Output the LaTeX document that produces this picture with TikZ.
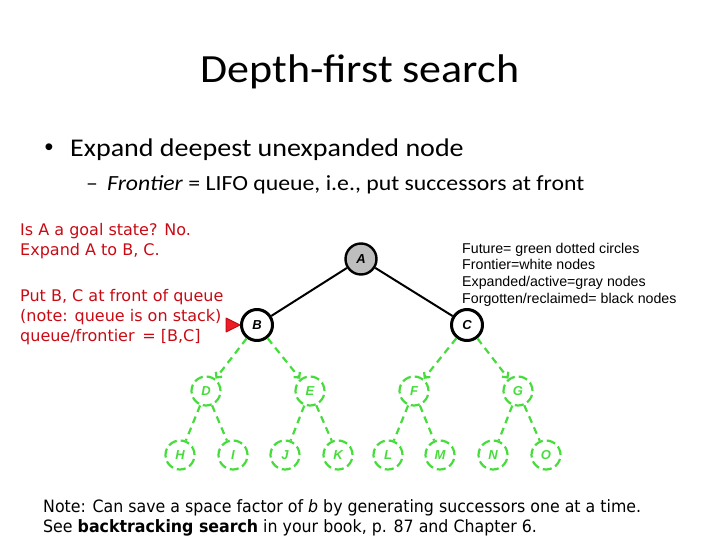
\documentclass[tikz,border=0pt]{standalone}
\usepackage{fontspec}
\setmainfont[FakeStretch=1.1]{Carlito}
\newfontfamily\notefont{DejaVu Sans}
\newfontfamily\bottomfont[FakeStretch=0.93]{DejaVu Sans}
\newfontfamily\legendfont{Liberation Sans}
\usetikzlibrary{arrows.meta}
\definecolor{notered}{RGB}{200,10,20}
\definecolor{pointred}{RGB}{235,30,40}
\definecolor{futuregreen}{RGB}{70,220,60}
\definecolor{expgray}{RGB}{190,190,190}
\begin{document}
\begin{tikzpicture}[x=1pt,y=-1pt,>=latex,line join=bevel,
  treenode/.style={circle,inner sep=0pt,font=\legendfont\bfseries\itshape\fontsize{13}{13}\selectfont},
  expanded/.style={treenode,draw=black,line width=2.4pt,fill=expgray,minimum size=31pt},
  frontier/.style={treenode,draw=black,line width=3pt,fill=white,minimum size=31pt},
  future/.style={treenode,draw=futuregreen,line width=2.2pt,dash pattern=on 9pt off 4pt,minimum size=29pt,text=futuregreen},
  treeedge/.style={black,line width=2pt},
  futureedge/.style={futuregreen,line width=2.2pt,dash pattern=on 7pt off 5pt},
  redtext/.style={anchor=base west,text=notered,font=\notefont\fontsize{16}{20}\selectfont,align=left,inner sep=0pt},
  ]
\useasboundingbox (0,0) rectangle (720,540);
%%
\node (title) at (360,83) [anchor=base,font=\fontsize{40}{40}\selectfont] {Depth-first search};
\node (bullet) at (49,156) [anchor=base,font=\legendfont\fontsize{25}{25}\selectfont] {•};
\node (point_1) at (70,157) [anchor=base west,inner sep=0pt,font=\fontsize{25.5}{26}\selectfont] {Expand deepest unexpanded node};
\node (dash) at (92,191) [anchor=base,font=\fontsize{21.6}{22}\selectfont] {–};
\node (point_2) at (107,191) [anchor=base west,inner sep=0pt,font=\fontsize{21.6}{22}\selectfont] {\textit{Frontier} = LIFO queue, i.e., put successors at front};
%
\node (goal) at (20,255) [redtext] {Is A a goal state? No.\\Expand A to B, C.};
\node (queue) at (20,341) [redtext] {Put B, C at front of queue\\(note: queue is on stack)\\queue/frontier \,= [B,C]};
\node (legend) at (462,303) [anchor=base west,inner sep=0pt,align=left,font=\legendfont\fontsize{14.2}{16.6}\selectfont] {Future= green dotted circles\\Frontier=white nodes\\Expanded/active=gray nodes\\Forgotten/reclaimed= black nodes};
%
\node (node_A) at (361,259) [expanded] {A};
\node (node_B) at (257,325) [frontier] {B};
\node (node_C) at (467,325) [frontier] {C};
\node (node_D) at (206,391) [future] {D};
\node (node_E) at (310,391) [future] {E};
\node (node_F) at (414,391) [future] {F};
\node (node_G) at (518,391) [future] {G};
\node (node_H) at (180,455) [future] {H};
\node (node_I) at (233,455) [future] {I};
\node (node_J) at (285,455) [future] {J};
\node (node_K) at (338,455) [future] {K};
\node (node_L) at (388,455) [future] {L};
\node (node_M) at (440,455) [future] {M};
\node (node_N) at (493,455) [future] {N};
\node (node_O) at (546,455) [future] {O};
\draw [treeedge] (node_A) -- (node_B);
\draw [treeedge] (node_A) -- (node_C);
\draw [futureedge,-{Straight Barb[length=4pt,width=8pt]}] (node_B) -- (node_D);
\draw [futureedge,-{Straight Barb[length=4pt,width=8pt]}] (node_B) -- (node_E);
\draw [futureedge,-{Straight Barb[length=4pt,width=8pt]}] (node_C) -- (node_F);
\draw [futureedge,-{Straight Barb[length=4pt,width=8pt]}] (node_C) -- (node_G);
\draw [futureedge] (node_D) -- (node_H);
\draw [futureedge] (node_D) -- (node_I);
\draw [futureedge] (node_E) -- (node_J);
\draw [futureedge] (node_E) -- (node_K);
\draw [futureedge] (node_F) -- (node_L);
\draw [futureedge] (node_F) -- (node_M);
\draw [futureedge] (node_G) -- (node_N);
\draw [futureedge] (node_G) -- (node_O);
\draw [draw=notered,fill=pointred,line width=1pt] (226,318) -- (240,325) -- (226,332) -- cycle;
%
\node (note) at (43,532) [anchor=base west,inner sep=0pt,align=left,font=\bottomfont\fontsize{17}{20}\selectfont] {Note: Can save a space factor of \textit{b} by generating successors one at a time.\\See \textbf{backtracking search} in your book, p. 87 and Chapter 6.};
%
\end{tikzpicture}
\end{document}
